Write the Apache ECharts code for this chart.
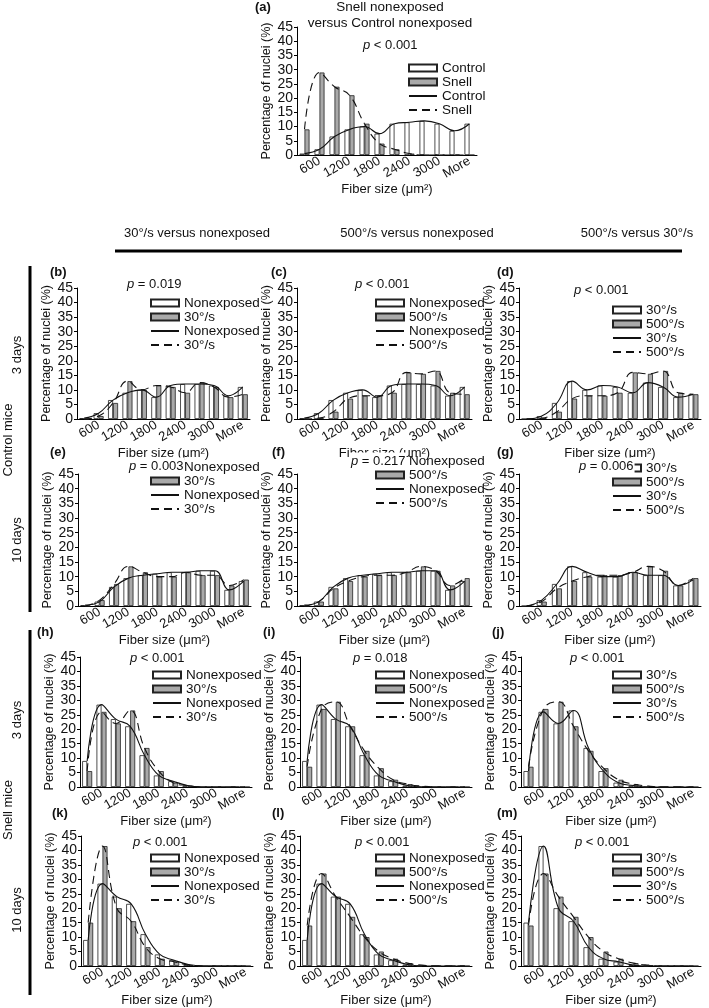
<!DOCTYPE html>
<html><head><meta charset="utf-8">
<script src="https://cdn.jsdelivr.net/npm/echarts@6/dist/echarts.min.js"></script>
<style>html,body{margin:0;padding:0;background:#fff}#c{width:709px;height:1008px}</style>
</head><body><div id="c"></div>
<script>
// ---------- data ----------
const categories = ['300','600','900','1200','1500','1800','2100','2400','2700','3000','3300','More'];
// (a)
const ctrlNonexposedA = [0.5, 2, 6.5, 9, 10, 7.5, 11, 11.5, 12, 11, 8.5, 11];
const snellNonexposedA = [9, 29, 24, 21, 11, 4, 2, 0.5, 0, 0, 0, 0];
// Control mice, 3 days
const c3Non = [0.3, 2, 6.5, 9, 10, 7.5, 11.5, 12, 12, 11.5, 8, 11];
const c3_30 = [0, 1, 5.5, 13, 10, 11.5, 11, 9, 12.5, 11, 7.5, 8.5];
const c3_500 = [0, 0.3, 2.5, 7, 8, 8, 9, 16, 15.5, 16.5, 9, 8.5];
// Control mice, 10 days
const c10Non = [0.3, 1.5, 6.5, 9.5, 10.5, 11, 11.5, 11.5, 12, 12, 5.5, 8.5];
const c10_30 = [0, 2, 7.5, 13.5, 11.5, 10, 10, 11.5, 10.5, 10.5, 7, 9];
const c10_500 = [0, 1.5, 6, 8.5, 10, 10.5, 10.5, 11.5, 13.5, 12, 7, 9.5];
// Snell mice, 3 days
const s3Non = [9, 28.5, 23.5, 21, 11, 4, 2, 0.5, 0, 0, 0, 0];
const s3_30 = [5.5, 26, 22, 26.5, 13.5, 5.5, 1.5, 0.5, 0, 0, 0, 0];
const s3_500 = [7, 27, 29.5, 21, 12.5, 6.5, 2.5, 1, 0.3, 0, 0, 0];
// Snell mice, 10 days
const s10Non = [9, 28.5, 24, 21.5, 11, 4, 2, 0.5, 0, 0, 0, 0];
const s10_30 = [15, 41.5, 20, 15.5, 6.5, 2.5, 1.5, 0.3, 0, 0, 0, 0];
const s10_500 = [14, 32, 24, 17, 10, 5, 2.5, 1, 0.3, 0, 0, 0];

const pValues = {a:'< 0.001', b:'= 0.019', c:'< 0.001', d:'< 0.001', e:'= 0.003', f:'= 0.217', g:'= 0.006',
  h:'< 0.001', i:'= 0.018', j:'< 0.001', k:'< 0.001', l:'< 0.001', m:'< 0.001'};
const yAxisTitle = 'Percentage of nuclei (%)';
const xAxisTitle = 'Fiber size (μm²)';

// ---------- layout ----------
const FONT = '"Liberation Sans", Arial, Helvetica, sans-serif';
const R1 = 288, R2 = 474, R3 = 657, R4 = 836;
const panels = [
  {id:'a', x:297, y:27, w:180, h:128, d1:ctrlNonexposedA, d2:snellNonexposedA, n1:'Control', n2:'Snell', px:363, py:45, lx:408, ly:61, tx:255, ty:7},
  {id:'b', x:77, y:R1, w:173, h:131, d1:c3Non, d2:c3_30, n1:'Nonexposed', n2:'30°/s', px:127, py:284, lx:150, ly:296, tx:50, ty:272},
  {id:'c', x:297, y:R1, w:175, h:131, d1:c3Non, d2:c3_500, n1:'Nonexposed', n2:'500°/s', px:355, py:284, lx:375, ly:296, tx:271, ty:272},
  {id:'d', x:519, y:R1, w:182, h:131, d1:c3_30, d2:c3_500, n1:'30°/s', n2:'500°/s', px:574, py:290, lx:612, ly:303, tx:497, ty:272},
  {id:'e', x:78, y:R2, w:173, h:132, d1:c10Non, d2:c10_30, n1:'Nonexposed', n2:'30°/s', px:128, py:466, lx:150, ly:460, tx:50, ty:452, pbg:true},
  {id:'f', x:297, y:R2, w:175, h:132, d1:c10Non, d2:c10_500, n1:'Nonexposed', n2:'500°/s', px:350, py:461, lx:375, ly:454, tx:272, ty:452, pbg:true},
  {id:'g', x:519, y:R2, w:182, h:132, d1:c10_30, d2:c10_500, n1:'30°/s', n2:'500°/s', px:578, py:466, lx:612, ly:461, tx:497, ty:452, pbg:true},
  {id:'h', x:80, y:R3, w:172, h:130, d1:s3Non, d2:s3_30, n1:'Nonexposed', n2:'30°/s', px:130, py:658, lx:152, ly:668, tx:37, ty:632},
  {id:'i', x:300, y:R3, w:172, h:130, d1:s3Non, d2:s3_500, n1:'Nonexposed', n2:'500°/s', px:353, py:658, lx:375, ly:668, tx:263, ty:632},
  {id:'j', x:521, y:R3, w:180, h:130, d1:s3_30, d2:s3_500, n1:'30°/s', n2:'500°/s', px:570, py:658, lx:612, ly:668, tx:492, ty:632},
  {id:'k', x:81, y:R4, w:172, h:131, d1:s10Non, d2:s10_30, n1:'Nonexposed', n2:'30°/s', px:133, py:842, lx:150, ly:851, tx:52, ty:813},
  {id:'l', x:300, y:R4, w:172, h:131, d1:s10Non, d2:s10_500, n1:'Nonexposed', n2:'500°/s', px:355, py:842, lx:375, ly:851, tx:272, ty:813},
  {id:'m', x:521, y:R4, w:180, h:131, d1:s10_30, d2:s10_500, n1:'30°/s', n2:'500°/s', px:575, py:842, lx:612, ly:851, tx:497, ty:813}
];

const grid = [], xAxis = [], yAxis = [], series = [], legend = [], graphic = [];
const legendText = {};
const txt = (o) => ({type:'text', silent:true, z:100, ...o});

panels.forEach((p, i) => {
  grid.push({left:p.x, top:p.y, width:p.w, height:p.h});
  xAxis.push({type:'category', gridIndex:i, data:categories,
    axisLine:{lineStyle:{color:'#000', width:1}}, axisTick:{show:false},
    axisLabel:{interval:(idx) => idx % 2 === 1, rotate:30, fontSize:13, color:'#111', margin:5, fontFamily:FONT},
    name:xAxisTitle, nameLocation:'middle', nameGap:28, nameTextStyle:{fontSize:13, color:'#111', fontFamily:FONT}});
  yAxis.push({type:'value', gridIndex:i, min:0, max:45, interval:5,
    axisLine:{show:true, lineStyle:{color:'#000', width:1}}, axisTick:{show:true, length:3, lineStyle:{color:'#000'}},
    splitLine:{show:false},
    axisLabel:{fontSize:14, color:'#111', margin:4, fontFamily:FONT},
    name:yAxisTitle, nameLocation:'middle', nameGap:23, nameTextStyle:{fontSize:12.5, color:'#111', fontFamily:FONT}});
  const b1 = p.id + '_bar1', b2 = p.id + '_bar2', l1 = p.id + '_line1', l2 = p.id + '_line2';
  legendText[b1] = p.n1; legendText[l1] = p.n1; legendText[b2] = p.n2; legendText[l2] = p.n2;
  series.push({type:'bar', name:b1, xAxisIndex:i, yAxisIndex:i, data:p.d1, barWidth:5, barGap:'0%',
    itemStyle:{color:'#ffffff', borderColor:'#222', borderWidth:0.8}, silent:true});
  series.push({type:'bar', name:b2, xAxisIndex:i, yAxisIndex:i, data:p.d2, barWidth:5, barGap:'0%',
    itemStyle:{color:'#a9a9a9', borderColor:'#222', borderWidth:0.8}, silent:true});
  series.push({type:'line', name:l1, xAxisIndex:i, yAxisIndex:i, data:p.d1, smooth:0.45, symbol:'none',
    lineStyle:{color:'#111', width:1.1}, itemStyle:{color:'#111'}, silent:true, z:3});
  series.push({type:'line', name:l2, xAxisIndex:i, yAxisIndex:i, data:p.d2, smooth:0.45, symbol:'none',
    lineStyle:{color:'#111', width:1.1, type:[8, 5]}, itemStyle:{color:'#111'}, silent:true, z:3});
  legend.push({left:p.lx, top:p.ly, orient:'vertical', padding:0, itemGap:0, itemWidth:28, itemHeight:7,
    selectedMode:false, z:4,
    textStyle:{fontSize:13.5, lineHeight:13.5, color:'#111', fontFamily:FONT},
    data:[{name:b1, icon:'rect'}, {name:b2, icon:'rect'},
          {name:l1, itemStyle:{opacity:0}}, {name:l2, itemStyle:{opacity:0}}],
    formatter:(n) => legendText[n]});
  graphic.push(txt({x:p.tx, y:p.ty, style:{text:'(' + p.id + ')', font:'bold 13px ' + FONT, fill:'#111', textVerticalAlign:'middle', verticalAlign:'middle'}}));
  const pStyle = {text:'{i|p} ' + pValues[p.id], font:'13px ' + FONT, fill:'#111', textVerticalAlign:'middle', verticalAlign:'middle',
    rich:{i:{fontStyle:'italic', fontSize:13, fontFamily:FONT, fill:'#111'}}};
  if (p.pbg) { pStyle.backgroundColor = '#fff'; pStyle.padding = [2, 1, 2, 1]; }
  graphic.push(txt({x:p.px, y:p.py, style:pStyle}));
});

// title of (a)
graphic.push(txt({x:390, y:7, style:{text:'Snell nonexposed', font:'13.5px ' + FONT, fill:'#111', textAlign:'center', textVerticalAlign:'middle', verticalAlign:'middle'}}));
graphic.push(txt({x:390, y:23, style:{text:'versus Control nonexposed', font:'13.5px ' + FONT, fill:'#111', textAlign:'center', textVerticalAlign:'middle', verticalAlign:'middle'}}));
// column headers
const headers = [['30°/s versus nonexposed', 197], ['500°/s versus nonexposed', 417], ['500°/s versus 30°/s', 637]];
headers.forEach(h => graphic.push(txt({x:h[1], y:233, style:{text:h[0], font:'13px ' + FONT, fill:'#111', textAlign:'center', textVerticalAlign:'middle', verticalAlign:'middle'}})));
graphic.push({type:'line', silent:true, shape:{x1:115, y1:251, x2:682, y2:251}, style:{stroke:'#000', lineWidth:3}});
// row labels
const rowLabels = [['Control mice', 8, 440], ['3 days', 17, 355], ['10 days', 17, 540], ['Snell mice', 8, 810], ['3 days', 17, 720], ['10 days', 17, 910]];
rowLabels.forEach(r => graphic.push(txt({x:r[1], y:r[2], rotation:Math.PI / 2, style:{text:r[0], font:'13px ' + FONT, fill:'#111', textAlign:'center', textVerticalAlign:'middle', verticalAlign:'middle'}})));
graphic.push({type:'line', silent:true, shape:{x1:30, y1:266, x2:30, y2:612}, style:{stroke:'#000', lineWidth:3}});
graphic.push({type:'line', silent:true, shape:{x1:30, y1:630, x2:30, y2:995}, style:{stroke:'#000', lineWidth:3}});

const chart = echarts.init(document.getElementById('c'), null, {renderer:'canvas'});
chart.setOption({animation:false, backgroundColor:'#fff', textStyle:{fontFamily:FONT},
  grid, xAxis, yAxis, series, legend, graphic});
</script></body></html>
